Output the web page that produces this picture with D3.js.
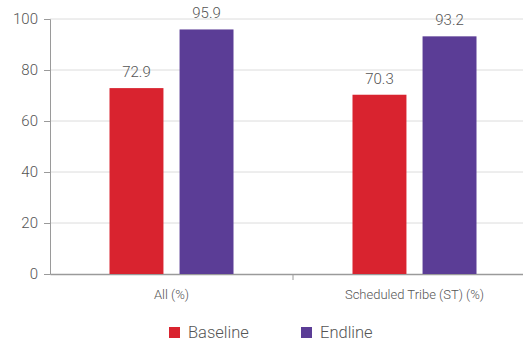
<!DOCTYPE html>
<html><head><meta charset="utf-8">
<script src="https://cdn.jsdelivr.net/npm/d3@7"></script>
<style>body{margin:0;background:#fff}svg{display:block;font-family:Roboto,sans-serif;font-weight:300}</style>
</head><body><svg id="c" width="523" height="344"></svg>
<script>
const categories = ["All (%)", "Scheduled Tribe (ST) (%)"];
const seriesNames = ["Baseline", "Endline"];
const baseline = [72.9, 70.3];
const endline = [95.9, 93.2];
const yTicks = [0, 20, 40, 60, 80, 100];
const colors = ["#d9232f", "#5b3d96"];

const svg = d3.select("#c");
const x0 = d3.scaleBand().domain(categories).range([50, 536]);
const x1 = d3.scaleBand().domain(seriesNames).range([-62, 62]).paddingInner(0.23);
const y = d3.scaleLinear().domain([0, 100]).range([274, 19]);

// gridlines
svg.append("g").selectAll("line").data(yTicks.filter(d => d > 0)).join("line")
  .attr("x1", 50).attr("x2", 523).attr("y1", d => y(d)).attr("y2", d => y(d))
  .attr("stroke", "#dcdcdc").attr("stroke-width", 1);

// y axis
const ya = svg.append("g").attr("transform", "translate(50,0)")
  .call(d3.axisLeft(y).tickValues(yTicks).tickSize(6).tickPadding(6));
ya.select(".domain").attr("stroke", "#9a9a9a");
ya.selectAll(".tick line").attr("stroke", "#9a9a9a");
ya.selectAll("text").attr("font-size", 15).attr("fill", "#555").attr("font-family", "Roboto").attr("font-weight", 300);

// x axis
const xa = svg.append("g").attr("transform", "translate(0,274)")
  .call(d3.axisBottom(x0).tickSize(0).tickPadding(16));
xa.select(".domain").attr("stroke", "#9a9a9a").attr("stroke-width", 1.5);
xa.selectAll("text").attr("font-size", 13).attr("fill", "#555").attr("font-family", "Roboto").attr("font-weight", 300);
// boundary tick between categories
svg.append("line").attr("x1", x0(categories[1])).attr("x2", x0(categories[1]))
  .attr("y1", 274).attr("y2", 280).attr("stroke", "#9a9a9a");

const rows = categories.map((c, i) => ({c, vals: [baseline[i], endline[i]]}));
const g = svg.append("g").selectAll("g").data(rows).join("g")
  .attr("transform", d => `translate(${x0(d.c) + x0.bandwidth() / 2},0)`);
g.selectAll("rect").data(d => d.vals.map((v, j) => ({v, s: seriesNames[j], j}))).join("rect")
  .attr("x", d => x1(d.s)).attr("width", x1.bandwidth())
  .attr("y", d => y(d.v)).attr("height", d => y(0) - y(d.v))
  .attr("fill", d => colors[d.j]);
g.selectAll("text").data(d => d.vals.map((v, j) => ({v, s: seriesNames[j]}))).join("text")
  .attr("x", d => x1(d.s) + x1.bandwidth() / 2)
  .attr("y", d => Math.min(y(d.v) - 11, Math.max(y(d.v) - 3, 25)))
  .attr("text-anchor", "middle").attr("font-size", 15).attr("fill", "#555")
  .text(d => d.v.toFixed(1));

// legend
const leg = svg.append("g");
const legX = [169, 301];
seriesNames.forEach((s, i) => {
  leg.append("rect").attr("x", legX[i]).attr("y", 327).attr("width", 11).attr("height", 11).attr("fill", colors[i]);
  leg.append("text").attr("x", legX[i] + 19).attr("y", 338).attr("font-size", 16.5).attr("fill", "#555").text(s);
});
</script></body></html>
